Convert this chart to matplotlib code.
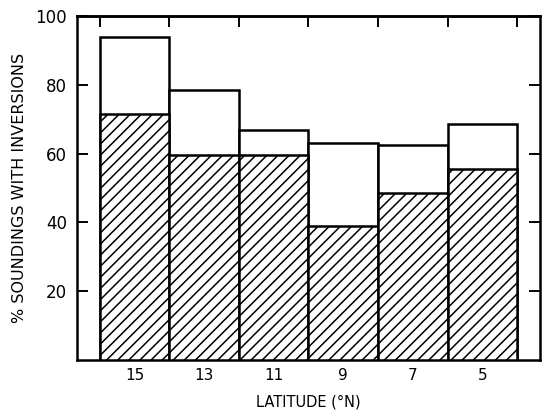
import matplotlib
matplotlib.use("Agg")
import matplotlib.pyplot as plt

# Percentage of soundings with inversions by latitude band
latitudes = [15, 13, 11, 9, 7, 5]
all_inversions = [94, 78.5, 67, 63, 62.5, 68.5]
hatched_inversions = [71.5, 59.5, 59.5, 39, 48.5, 55.5]
y_ticks = [20, 40, 60, 80, 100]

plt.rcParams['hatch.linewidth'] = 1.1
plt.rcParams['font.family'] = ['DejaVu Sans']

fig = plt.figure(figsize=(5.42, 4.12), dpi=100)
ax = fig.add_axes([0.142, 0.1262, 0.8543, 0.835])

ax.bar(latitudes, all_inversions, width=2.0, color='white',
       edgecolor='black', linewidth=1.8, zorder=2)
ax.bar(latitudes, hatched_inversions, width=2.0, color='white',
       edgecolor='black', hatch='///', linewidth=1.8, zorder=3)

ax.set_xlim(16.66, 3.34)
ax.set_ylim(0, 100)

ax.set_xticks(latitudes)
ax.set_xticklabels([str(v) for v in latitudes])
ax.tick_params(axis='x', length=0, pad=6, labelsize=11)

ax.set_yticks(y_ticks)
ax.set_yticklabels([str(v) for v in y_ticks])
ax.tick_params(axis='y', direction='in', length=8, width=1.4,
               pad=7, labelsize=12, right=True)

# bin-edge marks along the top edge
top = ax.secondary_xaxis('top')
top.set_xticks([16, 14, 12, 10, 8, 6, 4])
top.tick_params(direction='in', length=8, width=1.4, labeltop=False)
top.spines['top'].set_linewidth(1.8)

for s in ax.spines.values():
    s.set_linewidth(1.8)

ax.set_ylabel('% SOUNDINGS WITH INVERSIONS', fontsize=11.5, labelpad=6)
ax.set_xlabel('LATITUDE (°N)', fontsize=10.5, labelpad=8)

fig.savefig('out.png', dpi=100)
